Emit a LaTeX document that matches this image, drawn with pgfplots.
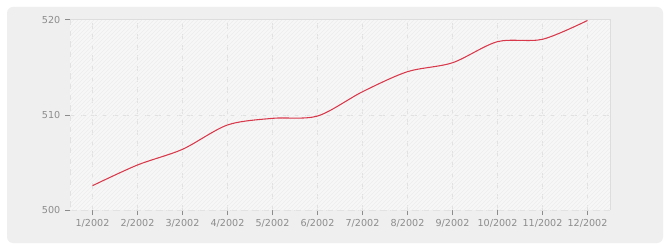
\documentclass[border=0pt]{standalone}
\usepackage{pgfplots}
\pgfplotsset{compat=1.18}
\usepackage{fontspec}
\setmainfont{DejaVu Sans}
\usetikzlibrary{patterns}
\definecolor{bg}{HTML}{EFEFEF}
\definecolor{framec}{HTML}{DDDDDD}
\definecolor{gridc}{HTML}{E2E2E2}
\definecolor{tickc}{HTML}{8C8C8C}
\definecolor{linec}{HTML}{D83A4C}
\definecolor{hatchc}{HTML}{EDEDED}
\begin{document}
\begin{tikzpicture}[x=0.75pt,y=0.75pt]
\fill[white] (0,0) rectangle (670,250);
\fill[bg, rounded corners=4.5pt] (7,7) rectangle (663,243);
\begin{axis}[
  at={(52.5pt,30pt)}, anchor=south west,
  width=405pt, height=142.5pt, scale only axis,
  xmin=0.5, xmax=12.5, ymin=500, ymax=520,
  xtick={1,...,12},
  xticklabels={1/2002,2/2002,3/2002,4/2002,5/2002,6/2002,7/2002,8/2002,9/2002,10/2002,11/2002,12/2002},
  ytick={500,510,520},
  xtick pos=left, ytick pos=left,
  tick align=outside, major tick length=3.75pt,
  tick style={tickc, line width=0.75pt},
  ticklabel style={font=\fontsize{7.2}{8}\selectfont, text=tickc},
  /pgf/number format/assume math mode=true,
  /pgf/number format/1000 sep={},
  grid=major,
  major grid style={gridc, line width=0.75pt, dash pattern=on 4pt off 4pt},
  axis line style={draw=none},
  axis background/.style={fill=white!97!black},
  clip=false,
]
\fill[pattern=north east lines, pattern color=hatchc] (axis cs:0.5,500) rectangle (axis cs:12.5,520);
\draw[framec, line width=0.75pt] (axis cs:0.5,520) -- (axis cs:12.5,520) -- (axis cs:12.5,500);
\draw[gridc, line width=0.75pt, dash pattern=on 4pt off 4pt] (axis cs:0.5,520) -- (axis cs:0.5,500) -- (axis cs:12.5,500);
\addplot[linec, line width=0.8pt, smooth, tension=0.5, mark=none] coordinates {
(1,502.56) (2,504.74) (3,506.39) (4,508.95) (5,509.65) (6,509.89)
(7,512.45) (8,514.56) (9,515.5) (10,517.72) (11,517.97) (12,519.95)
};
\end{axis}
\end{tikzpicture}
\end{document}
